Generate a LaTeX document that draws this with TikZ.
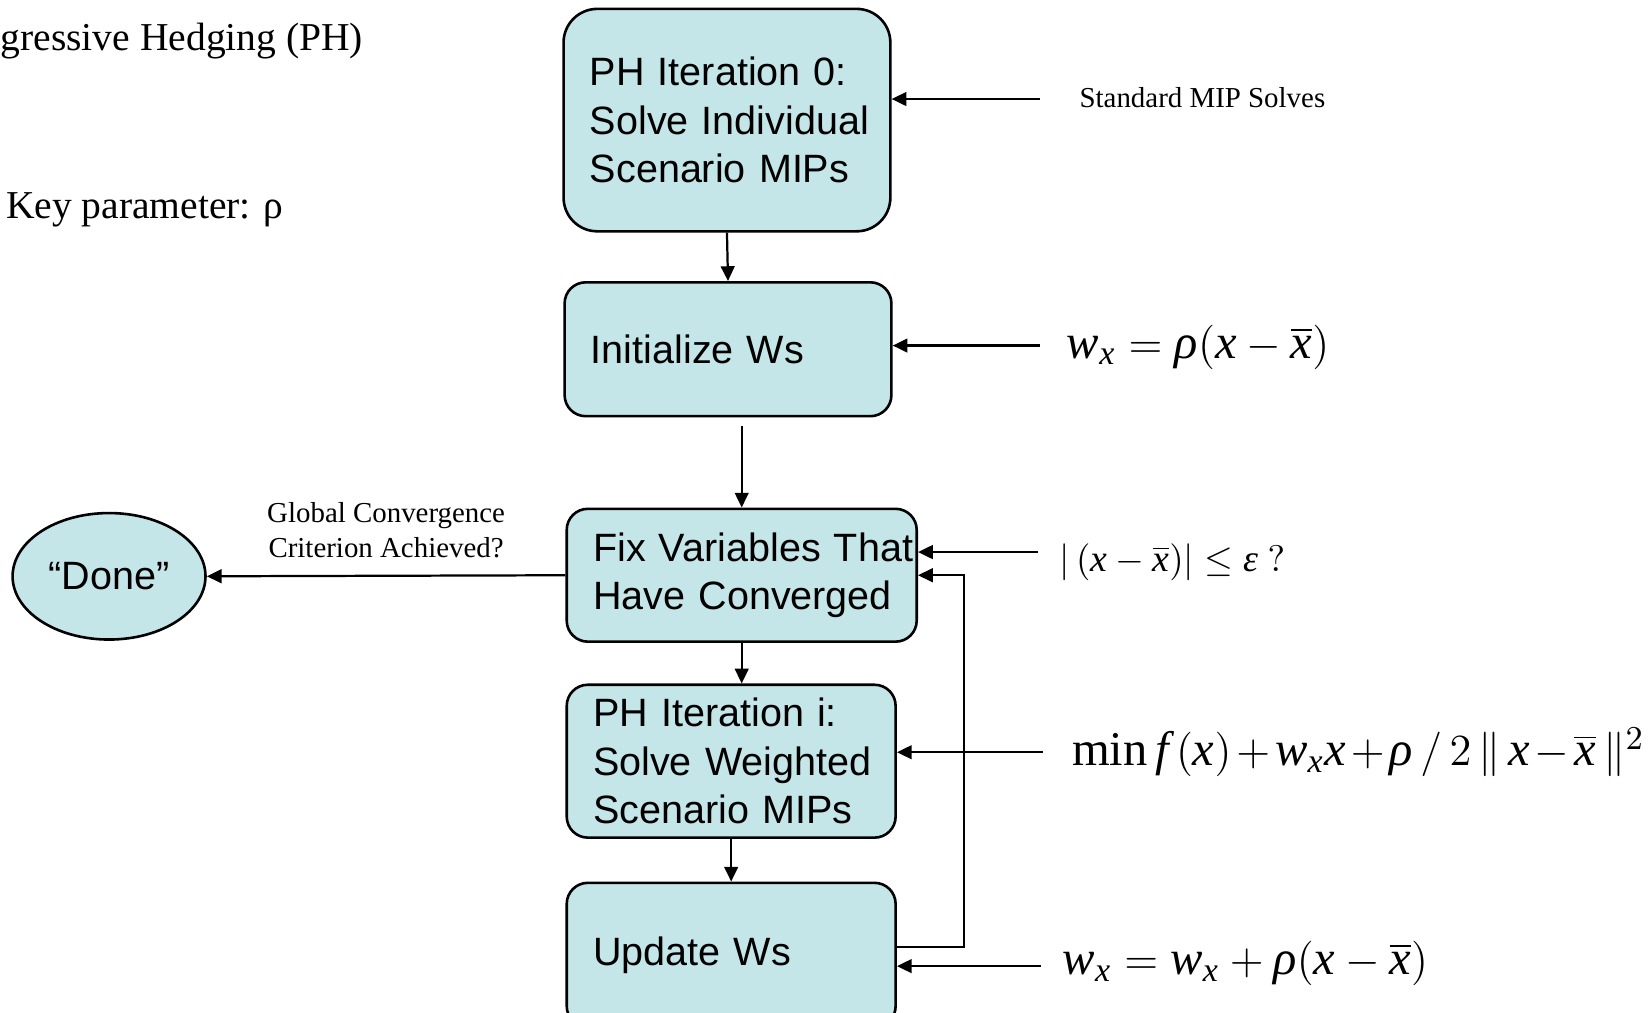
\documentclass[tikz,border=0pt]{standalone}
\usepackage{amsmath}
\usepackage{fontspec}
\setmainfont{Liberation Serif}
\setsansfont{Liberation Sans}
\usetikzlibrary{arrows.meta,shapes.geometric}
\definecolor{phfill}{RGB}{197,230,232}
\newcommand\mv[1]{\textit{#1}}

\begin{document}
\begin{tikzpicture}[x=0.01cm, y=-0.01cm,
    phbox/.style={draw, line width=0.7pt, fill=phfill, rounded corners=0.2cm,
        font=\sffamily\fontsize{10.67}{13.1}\selectfont, align=left,
        execute at begin node={\hyphenpenalty=10000\exhyphenpenalty=10000\hbadness=10000\hfuzz=2cm},
        inner xsep=0.25cm, inner ysep=0pt},
    endnode/.style={ellipse, draw, line width=0.7pt, fill=phfill, inner sep=0pt,
        font=\sffamily\fontsize{10.67}{13.1}\selectfont},
    arr/.style={-{Triangle[length=0.14cm,width=0.13cm]}, line width=0.6pt},
    note/.style={font=\fontsize{7.8}{9.4}\selectfont, inner sep=0pt},
    bigtext/.style={font=\fontsize{10.67}{13}\selectfont, inner sep=0pt, anchor=base west},
    formula/.style={font=\fontsize{13.1}{15}\selectfont, inner sep=0pt, anchor=base west}]
  \useasboundingbox (0,0) rectangle (1568,961);

  \node[bigtext] (title) at (0,48) {gressive Hedging (PH)};
  \node[bigtext] (key) at (5,207) {Key parameter: ρ};

  % the PH steps
  \node[phbox, text width=2.60cm, minimum height=2.11cm, rounded corners=0.32cm] (iter0) at (690,114)
      {PH~Iteration~0:\\Solve~Individual\\Scenario~MIPs};
  \node[phbox, text width=2.60cm, minimum height=1.27cm] (init) at (691,331.5) {Initialize~Ws};
  \node[phbox, text width=2.82cm, minimum height=1.26cm] (fix) at (704,546)
      {Fix~Variables~That\\Have~Converged};
  \node[phbox, text width=2.62cm, minimum height=1.45cm] (solve) at (694,722.5)
      {PH~Iteration~i:\\Solve~Weighted\\Scenario~MIPs};
  \node[phbox, text width=2.62cm, minimum height=1.37cm] (update) at (694,906.5) {Update~Ws};
  \node[endnode, minimum width=1.83cm, minimum height=1.20cm] (done) at (103.5,547) {“Done”};

  \draw[arr] (iter0.south) -- (init.north);
  \draw[arr, shorten <=0.08cm] (init.south -| fix.north) -- (fix.north);
  \draw[arr] (fix.south) -- (fix.south |- solve.north);
  \draw[arr] (solve.south) -- (update.north);
  \draw[arr] (fix.west) -- node[note, above=0.16cm, align=center]
      {Global Convergence\\Criterion Achieved?} (done.east);

  % loop back
  \coordinate (loopx) at (915,0);
  \draw[arr] ([yshift=0.075cm]update.east) -| (loopx |- fix.east) -- (fix.east);

  % side notes
  \node[note, anchor=base west] (mip) at (1024,102) {Standard MIP Solves};
  \node[formula] (winit) at (1012,340) {$\mv{w}_{\mv{x}} = \mv{ρ}(\mv{x} - \overline{\mv{x}})$};
  \node[formula, font=\fontsize{10.2}{12}\selectfont] (conv) at (1005,542)
      {$|\,(\mv{x} - \overline{\mv{x}})|\le \mv{ε}\ ?$};
  \node[formula] (minw) at (1017,727)
      {$\medmuskip=2mu \text{min}\,\mv{f}\,(\mv{x}) + \mv{w}_{\mv{x}}\mv{x} + \mv{ρ}\,/\,2\,\|\,\mv{x} - \overline{\mv{x}}\,\|^{2}$};
  \node[formula] (wupd) at (1008,925)
      {$\mv{w}_{\mv{x}} = \mv{w}_{\mv{x}} + \mv{ρ}(\mv{x} - \overline{\mv{x}})$};

  \coordinate (s1) at (987,94);
  \coordinate (s2) at (987,328);
  \coordinate (s3) at (985,524);
  \coordinate (s4) at (990,714);
  \coordinate (s5) at (988,917);
  \draw[arr] (s1) -- (s1 -| iter0.east);
  \draw[arr] (s2) -- (s2 -| init.east);
  \draw[arr] (s3) -- (s3 -| fix.east);
  \draw[arr] (s4) -- (s4 -| solve.east);
  \draw[arr] (s5) -- (s5 -| update.east);
\end{tikzpicture}
\end{document}
